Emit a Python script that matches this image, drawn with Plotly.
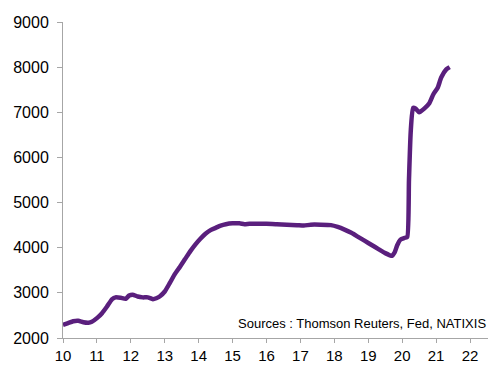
import plotly.graph_objects as go

years = [10.0, 10.15, 10.3, 10.45, 10.6, 10.75, 10.85, 11.0, 11.15, 11.3, 11.45, 11.55, 11.7, 11.85,
         11.95, 12.05, 12.2, 12.35, 12.5, 12.65, 12.75, 12.85, 13.0, 13.15, 13.3, 13.45, 13.6, 13.75,
         13.9, 14.05, 14.2, 14.35, 14.5, 14.65, 14.8, 15.0, 15.2, 15.35, 15.5, 15.8, 16.0, 16.3, 16.6,
         16.9, 17.1, 17.3, 17.6, 17.9, 18.1, 18.3, 18.5, 18.7, 18.9, 19.1, 19.3, 19.5, 19.7, 19.78,
         19.85, 19.95, 20.08, 20.15, 20.2, 20.25, 20.32, 20.4, 20.5, 20.65, 20.8, 20.92, 21.05, 21.15,
         21.3, 21.4]
balance = [2290, 2330, 2370, 2380, 2350, 2340, 2360, 2440, 2550, 2700, 2860, 2900, 2890, 2870,
           2940, 2960, 2920, 2900, 2900, 2860, 2880, 2920, 3030, 3220, 3420, 3580, 3750, 3920,
           4070, 4200, 4310, 4390, 4440, 4490, 4520, 4540, 4540, 4520, 4530, 4530, 4530, 4520, 4510,
           4500, 4490, 4510, 4510, 4500, 4460, 4400, 4330, 4240, 4150, 4060, 3970, 3880, 3820, 3900,
           4050, 4180, 4220, 4240, 5500, 6550, 7100, 7080, 7000, 7080, 7200, 7400, 7550, 7770,
           7950, 8000]
x_ticks = list(range(10, 23))
y_ticks = list(range(2000, 9001, 1000))
source_text = "Sources : Thomson Reuters, Fed, NATIXIS"

fig = go.Figure()
fig.add_trace(go.Scatter(x=years, y=balance, mode="lines",
                         line=dict(color="#5A1F7D", width=4.5, shape="spline", smoothing=0.5),
                         showlegend=False, hoverinfo="skip"))

axis_common = dict(showgrid=False, zeroline=False, showline=True, linecolor="#A6A6A6",
                   linewidth=1, ticks="outside", tickcolor="#A6A6A6",
                   automargin=False)
fig.update_xaxes(range=[10, 22.53], tickmode="array", tickvals=x_ticks,
                 ticktext=[str(v) for v in x_ticks], ticklabelstandoff=0, ticklen=4,
                 tickfont=dict(family="Liberation Sans, Arial", size=15, color="#000000"),
                 **axis_common)
fig.update_yaxes(range=[2000, 9000], tickmode="array", tickvals=y_ticks,
                 ticktext=[str(v) for v in y_ticks], ticklabelstandoff=5, ticklen=5,
                 tickfont=dict(family="Liberation Sans, Arial", size=16, color="#000000"),
                 **axis_common)

fig.add_annotation(text=source_text, xref="paper", yref="paper", x=1.0, y=0.045,
                   xanchor="right", yanchor="middle", showarrow=False,
                   font=dict(family="Liberation Sans, Arial", size=13, color="#000000"))

fig.update_layout(width=492, height=365, margin=dict(l=63, r=4, t=22, b=27),
                  paper_bgcolor="white", plot_bgcolor="white")
fig.write_html("out.html")
